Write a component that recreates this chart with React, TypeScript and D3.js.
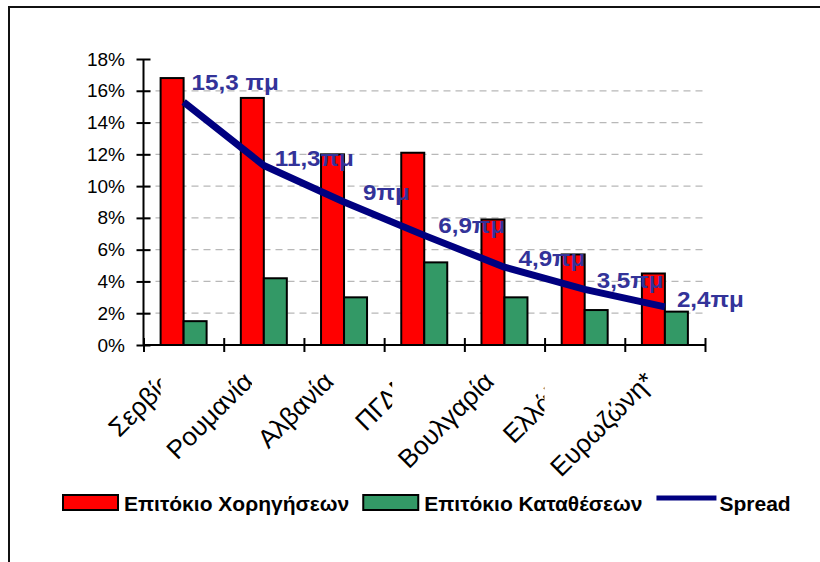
import React, { useEffect, useRef } from "react";
import * as d3 from "d3";

const categories = ["Σερβία", "Ρουμανία", "Αλβανία", "ΠΓΔΜ", "Βουλγαρία", "Ελλάδα", "Ευρωζώνη*"];
const loanRates = [16.8, 15.55, 12.0, 12.1, 7.9, 5.7, 4.5];
const depositRates = [1.5, 4.2, 3.0, 5.2, 3.0, 2.2, 2.1];
const spreadValues = [15.3, 11.3, 9.0, 6.9, 4.9, 3.5, 2.4];
const spreadLabels = ["15,3 πμ", "11,3πμ", "9πμ", "6,9πμ", "4,9πμ", "3,5πμ", "2,4πμ"];
const yTickValues = [0, 2, 4, 6, 8, 10, 12, 14, 16, 18];
const legendLabels = ["Επιτόκιο Χορηγήσεων", "Επιτόκιο Καταθέσεων", "Spread"];

// manual nudges of the spread data labels (relative to their points), as placed in the original
const labelNudgeX = [8, 11, 19, 14, 14, 12, 12];
const labelNudgeY = [-20, -7, -10, -10, -9, -9, -8];

const W = 820;
const H = 562;
const FONT = "'Liberation Sans', Arial, Helvetica, sans-serif";
const RED = "#ff0000";
const GREEN = "#339966";
const NAVY = "#000080";
const LABEL_BLUE = "#333399";

export default function App() {
  const ref = useRef<SVGSVGElement>(null);

  useEffect(() => {
    const svg = d3.select(ref.current);
    svg.selectAll("*").remove();
    svg.append("rect").attr("width", W).attr("height", H).attr("fill", "#fff");

    // outer frame (left + top)
    svg.append("path")
      .attr("d", `M9,${H} V7 H${W}`)
      .attr("fill", "none")
      .attr("stroke", "#111")
      .attr("stroke-width", 2);

    const left = 143.5, right = 705, bottom = 345, top = 59;
    const x = d3.scaleBand<string>().domain(categories).range([left, right]).padding(0);
    const xb = d3.scaleLinear().domain([0, categories.length]).range([left, right]);
    const y = d3.scaleLinear().domain([0, 18]).range([bottom, top]);
    const cx = (i: number) => (x(categories[i]) as number) + x.bandwidth() / 2;

    // gridlines
    svg.append("g").selectAll("line")
      .data(yTickValues.filter((v) => v > 0 && v < 18))
      .join("line")
      .attr("x1", left).attr("x2", right)
      .attr("y1", (d) => y(d)).attr("y2", (d) => y(d))
      .attr("stroke", "#b8b8b8").attr("stroke-width", 1.2)
      .attr("stroke-dasharray", "7,5");

    // bars
    const bw = 23;
    const bars = svg.append("g");
    bars.selectAll("rect.loan").data(loanRates).join("rect")
      .attr("class", "loan")
      .attr("x", (_, i) => cx(i) - bw).attr("width", bw)
      .attr("y", (d) => y(d)).attr("height", (d) => y(0) - y(d))
      .attr("fill", RED).attr("stroke", "#000").attr("stroke-width", 2);
    bars.selectAll("rect.dep").data(depositRates).join("rect")
      .attr("class", "dep")
      .attr("x", (_, i) => cx(i)).attr("width", bw)
      .attr("y", (d) => y(d)).attr("height", (d) => y(0) - y(d))
      .attr("fill", GREEN).attr("stroke", "#000").attr("stroke-width", 2);

    // y axis
    const yAxis = svg.append("g").attr("transform", `translate(${left},0)`)
      .call(d3.axisLeft(y).tickValues(yTickValues).tickFormat((d) => `${d}%`).tickSize(7).tickSizeOuter(0).tickPadding(11.5));
    yAxis.select(".domain").remove();
    yAxis.selectAll(".tick line").attr("x1", 7).attr("stroke", "#000").attr("stroke-width", 2);
    yAxis.selectAll(".tick text").attr("font-family", FONT).attr("font-size", 19).attr("fill", "#000");
    svg.append("line").attr("x1", left).attr("x2", left).attr("y1", top).attr("y2", bottom)
      .attr("stroke", "#000").attr("stroke-width", 2);

    // x axis
    const xAxis = svg.append("g").attr("transform", `translate(0,${bottom})`)
      .call(d3.axisBottom(xb).tickValues(d3.range(categories.length + 1)).tickFormat(() => "").tickSize(7).tickSizeOuter(0));
    xAxis.select(".domain").remove();
    xAxis.selectAll(".tick line").attr("y1", -7).attr("stroke", "#000").attr("stroke-width", 2);
    svg.append("line").attr("x1", left).attr("x2", right).attr("y1", bottom).attr("y2", bottom)
      .attr("stroke", "#000").attr("stroke-width", 2);

    // spread line
    const line = d3.line<number>().x((_, i) => cx(i)).y((d) => y(d));
    svg.append("path").datum(spreadValues).attr("d", line)
      .attr("fill", "none").attr("stroke", NAVY).attr("stroke-width", 7)
      .attr("stroke-linejoin", "round");

    // spread labels
    spreadValues.forEach((v, i) => {
      svg.append("text")
        .attr("transform", `translate(${cx(i) + labelNudgeX[i]},${y(v) + labelNudgeY[i]}) scale(1.1,1)`)
        .attr("dy", "0.36em")
        .attr("font-family", FONT).attr("font-size", 22).attr("font-weight", "bold")
        .attr("fill", LABEL_BLUE)
        .text(spreadLabels[i]);
    });

    // category labels (each drawn over a white box, as in the original)
    const cfs = 26;
    const asc = 0.9 * cfs, desc = 0.22 * cfs;
    const k = Math.SQRT1_2;
    categories.forEach((c, i) => {
      const ax = cx(i) - 9, ay = 383;
      const bg = svg.append("rect").attr("fill", "#fff");
      const t = svg.append("text")
        .attr("transform", `translate(${ax},${ay}) rotate(-45)`)
        .attr("text-anchor", "end")
        .attr("font-family", FONT).attr("font-size", cfs).attr("fill", "#000")
        .text(c);
      const L = (t.node() as SVGTextElement).getComputedTextLength();
      const x0 = ax - k * (L + asc), x1 = ax + k * desc;
      const y0 = ay - k * asc, y1 = ay + k * (L + desc);
      bg.attr("x", x0).attr("y", y0).attr("width", x1 - x0).attr("height", y1 - y0);
    });

    // legend
    const lg = svg.append("g");
    const lfs = 21;
    let lx = 63;
    const swY = 495, swH = 15, baseY = 511;
    legendLabels.forEach((lab, i) => {
      if (i < 2) {
        lg.append("rect").attr("x", lx).attr("y", swY).attr("width", 55).attr("height", swH)
          .attr("fill", i === 0 ? RED : GREEN).attr("stroke", "#000").attr("stroke-width", 2);
      } else {
        lg.append("line").attr("x1", lx).attr("x2", lx + 60).attr("y1", 498).attr("y2", 498)
          .attr("stroke", NAVY).attr("stroke-width", 5);
      }
      const tx = i < 2 ? lx + 61 : lx + 63;
      const t = lg.append("text").attr("x", tx).attr("y", baseY)
        .attr("font-family", FONT).attr("font-size", lfs).attr("font-weight", "bold").attr("fill", "#000")
        .text(lab);
      const w = (t.node() as SVGTextElement).getComputedTextLength();
      lx = tx + w + 14;
    });
  }, []);

  return <svg ref={ref} width={W} height={H} style={{ position: "absolute", left: 0, top: 0, display: "block" }} />;
}
